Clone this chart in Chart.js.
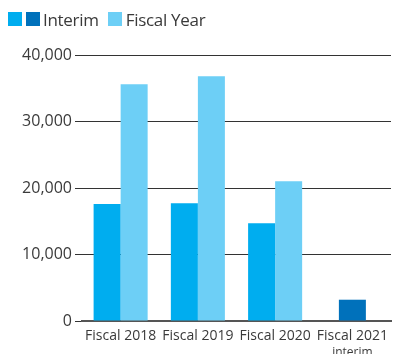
<!DOCTYPE html>
<html>
<head>
<meta charset="utf-8">
<script src="https://cdn.jsdelivr.net/npm/chart.js@4/dist/chart.umd.min.js"></script>
<style>
  html, body { margin: 0; padding: 0; background: #fff; }
  #wrap { position: relative; width: 394px; height: 354px; }
  #legend { position: absolute; left: 8px; top: 8px; font-family: "Open Sans", sans-serif; font-size: 17px; color: #3a3a3a; display: flex; align-items: center; height: 22px; white-space: nowrap; letter-spacing: -0.3px; }
  .sw { display: inline-block; width: 14px; height: 14px; }
  canvas { position: absolute; left: 0; top: 0; }
</style>
</head>
<body>
<div id="wrap">
  <canvas id="c" width="394" height="354"></canvas>
  <div id="legend">
    <span class="sw" style="background:#00adef"></span><span class="sw" style="background:#0071bb;margin-left:4px"></span><span style="margin-left:3px">Interim</span>
    <span class="sw" style="background:#6dcff6;margin-left:9px"></span><span style="margin-left:4px">Fiscal Year</span>
  </div>
</div>
<script>
const categories = ["Fiscal 2018", "Fiscal 2019", "Fiscal 2020", "Fiscal 2021"];
const subLabels = ["", "", "", "interim"];
const interimValues = [17600, 17700, 14700, 3200];
const fiscalYearValues = [35600, 36800, 21000, null];
const yTicks = [0, 10000, 20000, 30000, 40000];

const interimColors = ["#00adef", "#00adef", "#00adef", "#0071bb"];
const fiscalColor = "#6dcff6";
const textColor = "#3a3a3a";

const subLabelPlugin = {
  id: 'subLabel',
  afterDraw(chart) {
    const xs = chart.scales.x;
    const ctx = chart.ctx;
    ctx.save();
    ctx.font = '12px "Open Sans", sans-serif';
    ctx.fillStyle = textColor;
    ctx.textAlign = 'center';
    ctx.textBaseline = 'alphabetic';
    subLabels.forEach((s, i) => {
      if (s) ctx.fillText(s, xs.getPixelForValue(i), 356);
    });
    ctx.restore();
  }
};

new Chart(document.getElementById('c'), {
  type: 'bar',
  data: {
    labels: categories,
    datasets: [
      { label: 'Interim', data: interimValues, backgroundColor: interimColors, borderWidth: 0 },
      { label: 'Fiscal Year', data: fiscalYearValues, backgroundColor: fiscalColor, borderWidth: 0 }
    ]
  },
  options: {
    responsive: false,
    animation: false,
    devicePixelRatio: 1,
    skipNull: true,
    categoryPercentage: 0.7,
    barPercentage: 1,
    maxBarThickness: 27,
    layout: { padding: { top: 55, right: 3, left: 0, bottom: 0 } },
    plugins: { legend: { display: false }, tooltip: { enabled: false } },
    scales: {
      x: {
        grid: { display: false },
        border: { display: true, color: '#555', width: 2 },
        ticks: { color: textColor, padding: -1, font: { family: 'Open Sans', size: 14 }, maxRotation: 0, autoSkip: false },
        afterFit(s) { s.height = 33; }
      },
      y: {
        min: 0, max: 40000,
        afterBuildTicks(s) { s.ticks = yTicks.map(v => ({ value: v })); },
        grid: { color: '#333', lineWidth: 1, tickLength: 7, drawTicks: true },
        border: { display: false },
        ticks: {
          color: textColor, padding: 3,
          font: { family: 'Open Sans', size: 16 },
          callback: v => v.toLocaleString('en-US')
        },
        afterFit(s) { s.width = 82; }
      }
    }
  },
  plugins: [subLabelPlugin]
});
</script>
</body>
</html>
